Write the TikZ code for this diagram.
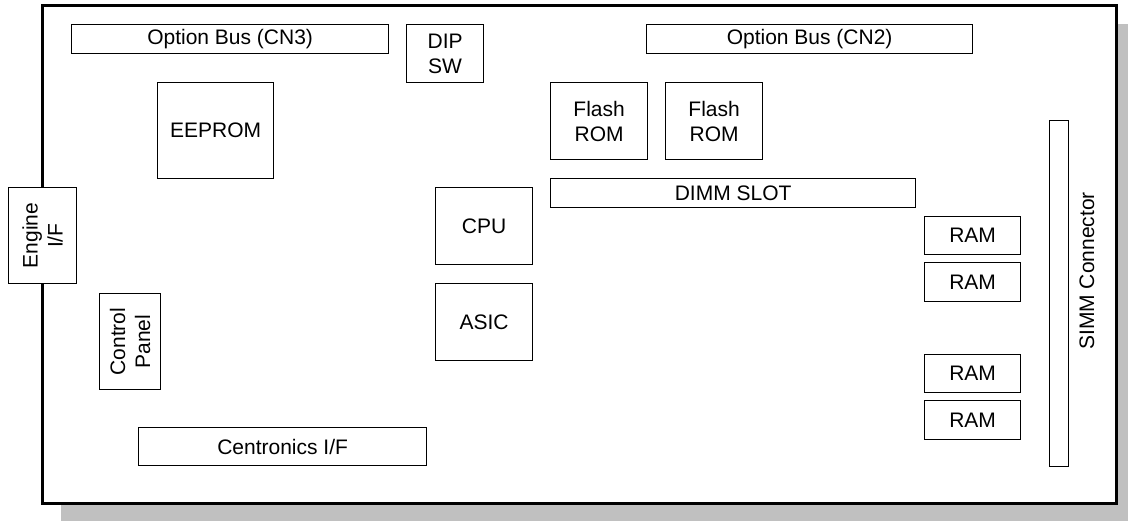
\documentclass[tikz,border=0pt]{standalone}
\usepackage{fontspec}
\setmainfont{Liberation Sans}
\definecolor{shadowgray}{HTML}{C0C0C0}
\begin{document}
\begin{tikzpicture}[x=1pt,y=-1pt,
  part/.style={draw=black, line width=1.3pt, fill=white, inner sep=0pt, anchor=north west,
    font=\fontsize{21}{25}\selectfont, align=center},
  lbl/.style={font=\fontsize{21}{25}\selectfont, align=center, inner sep=0pt},
  boardline/.style={draw=black, line width=3pt, fill=white}]
\clip (0,0) rectangle (1128,520);
\fill[white] (0,0) rectangle (1128,520);
% shadow and board
\fill[shadowgray] (61,24) rectangle (1136,523);
\path[boardline] (42,5) rectangle (1116,503);
% top row
\node[part, minimum width=317pt, minimum height=29pt] (cn3) at (71,24) {Option Bus (CN3)};
\node[part, minimum width=77pt, minimum height=58pt] (dip) at (406,24) {DIP\\SW};
\node[part, minimum width=326pt, minimum height=29pt] (cn2) at (646,24) {Option Bus (CN2)};
% chips
\node[part, minimum width=116pt, minimum height=96pt] (eeprom) at (157,82) {EEPROM};
\node[part, minimum width=97pt, minimum height=77pt] (flash1) at (550,82) {Flash\\ROM};
\node[part, minimum width=97pt, minimum height=77pt] (flash2) at (665,82) {Flash\\ROM};
\node[part, minimum width=365pt, minimum height=29pt] (dimm) at (550,178) {DIMM SLOT};
\node[part, minimum width=97pt, minimum height=77pt] (cpu) at (435,187) {CPU};
\node[part, minimum width=97pt, minimum height=77pt] (asic) at (435,283) {ASIC};
% left side
\node[part, minimum width=68pt, minimum height=96pt] (engine) at (8,187) {};
\node[lbl, rotate=90] (enginet) at (engine.center) {Engine\\I/F};
\node[part, minimum width=61pt, minimum height=96pt] (ctrl) at (99,293) {};
\node[lbl, rotate=90] (ctrlt) at (ctrl.center) {Control\\Panel};
\node[part, minimum width=288pt, minimum height=38pt] (centr) at (138,427) {Centronics I/F};
% RAM
\node[part, minimum width=96pt, minimum height=38pt] (ram1) at (924,216) {RAM};
\node[part, minimum width=96pt, minimum height=39pt] (ram2) at (924,262) {RAM};
\node[part, minimum width=96pt, minimum height=38pt] (ram3) at (924,354) {RAM};
\node[part, minimum width=96pt, minimum height=39pt] (ram4) at (924,400) {RAM};
% SIMM
\node[part, minimum width=19pt, minimum height=346pt] (simm) at (1049,120) {};
\node[lbl, rotate=90] (simmt) at (1087,271) {SIMM Connector};
\end{tikzpicture}
\end{document}
